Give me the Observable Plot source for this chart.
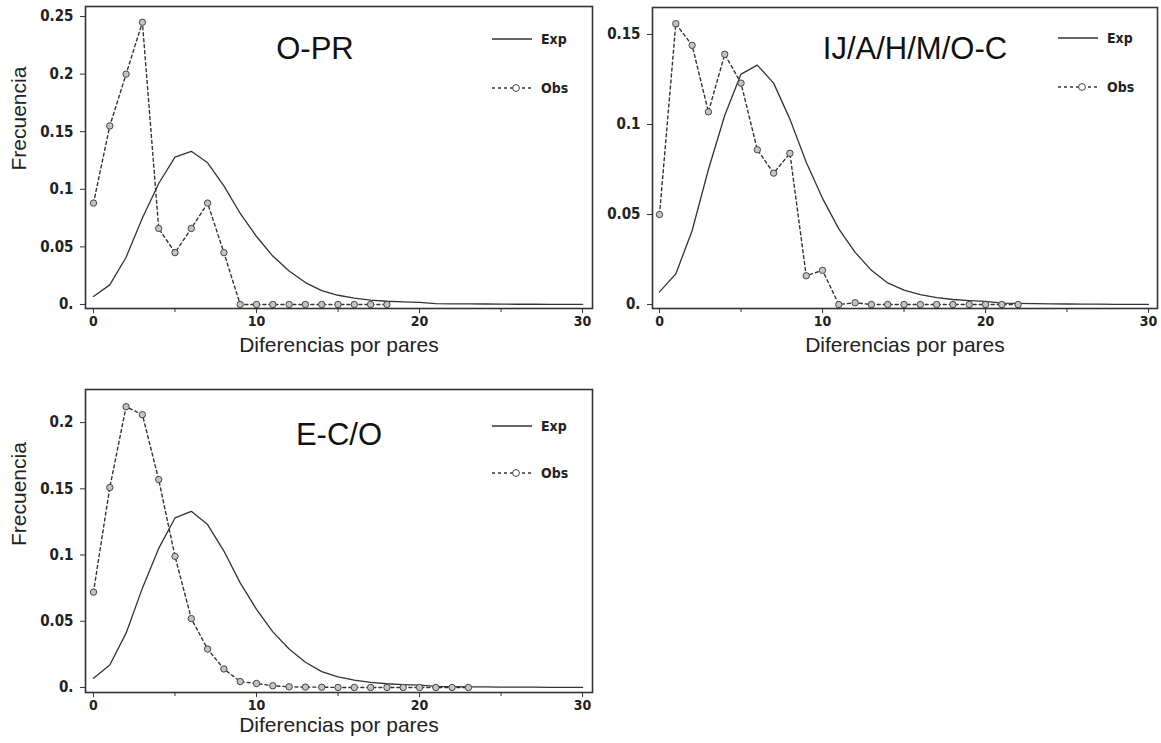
<!DOCTYPE html>
<html><head><meta charset="utf-8">
<script src="https://cdn.jsdelivr.net/npm/d3@7"></script>
<script src="https://cdn.jsdelivr.net/npm/@observablehq/plot@0.6"></script>
<style>
body{margin:0;background:#fff;width:1161px;height:743px;overflow:hidden;position:relative}
.panel{position:absolute}
</style></head><body>
<script>
// ---- data ----
const expFreq = [0.007,0.017,0.041,0.075,0.105,0.128,0.133,0.123,0.103,0.079,0.059,0.042,0.029,0.019,0.012,0.008,0.0055,0.0038,0.0028,0.0022,0.0018,0.0008,0.0006,0.0005,0.0004,0.0003,0.0002,0.0002,0.0001,0.0001,0.0001];
const obsOPR = [0.088,0.155,0.200,0.245,0.066,0.045,0.066,0.088,0.045,0,0,0,0,0,0,0,0,0,0];
const obsIJ  = [0.050,0.156,0.144,0.107,0.139,0.123,0.086,0.073,0.084,0.016,0.019,0,0.001,0,0,0,0,0,0,0,0,0,0];
const obsECO = [0.072,0.151,0.212,0.206,0.157,0.099,0.052,0.029,0.014,0.0045,0.003,0.0013,0.0005,0.0003,0.0002,0,0,0,0,0,0,0,0,0];
const titles = ["O-PR","IJ/A/H/M/O-C","E-C/O"];
const xTicks = [0,10,20,30];
const xMinorTicks = [5,15,25];
const yTicksOPR = [0,0.05,0.1,0.15,0.2,0.25];
const yTicksIJ = [0,0.05,0.1,0.15];
const yTicksECO = [0,0.05,0.1,0.15,0.2];
const xLabel = "Diferencias por pares";
const yLabel = "Frecuencia";
const legendLabels = ["Exp","Obs"];

const narrow = '"Liberation Sans Narrow","Arial Narrow","DejaVu Sans Condensed","Liberation Sans",sans-serif';
const regular = '"Liberation Sans",Arial,sans-serif';

function panel(cfg){
  const expData = expFreq.map((v,i)=>({x:i,y:v}));
  const obsData = cfg.obs.map((v,i)=>({x:i,y:v}));
  const marks = [
    Plot.axisX({ticks:xTicks, tickSize:5, tickPadding:3, tickFormat:d=>String(d), fontSize:14, fontWeight:"bold", fontFamily:narrow, stroke:"#333", fill:"#222", label:null}),
    Plot.axisX({ticks:xMinorTicks, tickSize:4, tickFormat:()=>"", stroke:"#333", label:null}),
    Plot.axisY({ticks:cfg.yTicks, tickSize:5, tickPadding:7, tickFormat:d=>d===0?"0.":String(d), fontSize:15, fontWeight:"bold", fontFamily:narrow, stroke:"#333", fill:"#222", label:null}),
    Plot.line(expData,{x:"x",y:"y",stroke:"#333",strokeWidth:1.3}),
    Plot.line(obsData,{x:"x",y:"y",stroke:"#333",strokeWidth:1.4,strokeDasharray:"3,3"}),
    Plot.dot(obsData,{x:"x",y:"y",r:3.2,stroke:"#444",fill:"#c4c4c4",strokeWidth:1}),
    Plot.frame({stroke:"#333",strokeWidth:1.6}),
    Plot.text([cfg.title],{frameAnchor:"top",dx:cfg.titleDx,dy:cfg.titleDy,fontSize:31,fontFamily:regular,fill:"#111"}),
    Plot.text([xLabel],{frameAnchor:"bottom",dy:cfg.xlabDy,fontSize:21,fontFamily:regular,fill:"#222"})
  ];
  if (cfg.ylab) marks.push(Plot.text([yLabel],{frameAnchor:"left",dx:-66,dy:cfg.ylabDy,rotate:-90,fontSize:21,fontFamily:regular,fill:"#222"}));
  const svg = Plot.plot({
    width:cfg.width, height:cfg.height,
    marginLeft:cfg.m[0], marginRight:cfg.m[1], marginTop:cfg.m[2], marginBottom:cfg.m[3],
    x:{domain:cfg.xDomain,label:null},
    y:{domain:cfg.yDomain,label:null},
    style:{background:"transparent",overflow:"visible"},
    marks
  });
  svg.classList.add("panel");
  svg.style.left = cfg.left+"px";
  svg.style.top = cfg.top+"px";
  // legend
  const g = d3.select(svg).append("g");
  const [lx, ye, yo] = cfg.legend;
  g.append("line").attr("x1",lx).attr("x2",lx+40).attr("y1",ye).attr("y2",ye).attr("stroke","#333").attr("stroke-width",1.3);
  g.append("line").attr("x1",lx).attr("x2",lx+40).attr("y1",yo).attr("y2",yo).attr("stroke","#333").attr("stroke-width",1.3).attr("stroke-dasharray","3,3");
  g.append("circle").attr("cx",lx+24).attr("cy",yo).attr("r",3.4).attr("fill","#fff").attr("stroke","#444");
  g.selectAll("text").data(legendLabels).join("text")
    .attr("x",lx+49).attr("y",(d,i)=>(i?yo:ye)+5)
    .attr("text-anchor","start")
    .attr("font-family",narrow).attr("font-weight","bold").attr("font-size",14).attr("fill","#222")
    .text(d=>d);
  document.body.appendChild(svg);
}

panel({obs:obsOPR, yTicks:yTicksOPR, title:titles[0], left:0, top:0, width:600, height:370, m:[85,8,6,62],
  xDomain:[-0.49,30.61], yDomain:[-0.0035,0.2587], titleDx:-24, titleDy:30, xlabDy:43, ylab:true, ylabDy:13, legend:[492,39,88]});
panel({obs:obsIJ, yTicks:yTicksIJ, title:titles[1], left:595, top:0, width:566, height:370, m:[57,4,7,62],
  xDomain:[-0.43,30.55], yDomain:[-0.0022,0.165], titleDx:10, titleDy:29, xlabDy:43, ylab:false, legend:[463,38,87]});
panel({obs:obsECO, yTicks:yTicksECO, title:titles[2], left:0, top:380, width:600, height:363, m:[85,8,9,51],
  xDomain:[-0.49,30.61], yDomain:[-0.0038,0.225], titleDx:0, titleDy:33, xlabDy:39, ylab:true, ylabDy:5, legend:[492,46,93]});
</script>
</body></html>
